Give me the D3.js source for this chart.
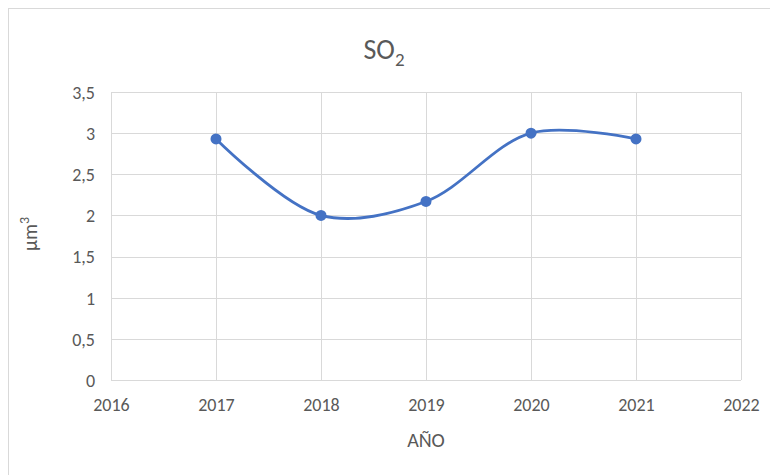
<!DOCTYPE html>
<html lang="es">
<head>
<meta charset="UTF-8">
<title>SO2</title>
<script src="https://d3js.org/d3.v7.min.js"></script>
<style>
    body { margin: 0; background: #ffffff; }
    text { font-family: Carlito, Lato, "Open Sans", sans-serif; }
    .tick text { fill: #595959; font-size: 18px; }
    .grid line { stroke: #d9d9d9; stroke-width: 1; }
</style>
</head>
<body>
<div id="chart"></div>
<script>
    // values
    const years = [2017, 2018, 2019, 2020, 2021];
    const so2 = [2.93, 2.0, 2.17, 3.0, 2.93];
    const xTicks = [2016, 2017, 2018, 2019, 2020, 2021, 2022];
    const yTicks = [0, 0.5, 1, 1.5, 2, 2.5, 3, 3.5];

    const W = 770, H = 475;
    const margin = { top: 92, right: 29, bottom: 95, left: 111 };
    const width = W - margin.left - margin.right;
    const height = H - margin.top - margin.bottom;

    const svg = d3.select("#chart").append("svg")
        .attr("width", W)
        .attr("height", H);

    // outer chart border
    svg.append("rect")
        .attr("x", 8.5).attr("y", 8.5)
        .attr("width", W).attr("height", H)
        .attr("fill", "none")
        .attr("stroke", "#d9d9d9");

    const g = svg.append("g")
        .attr("transform", `translate(${margin.left},${margin.top})`);

    const x = d3.scaleLinear().domain([2016, 2022]).range([0, width]);
    const y = d3.scaleLinear().domain([0, 3.5]).range([height, 0]);

    const fmt = d => String(d).replace(".", ",");

    // horizontal grid
    g.append("g").attr("class", "grid")
        .selectAll("line").data(yTicks).join("line")
        .attr("x1", 0).attr("x2", width)
        .attr("y1", d => Math.round(y(d)) + 0.5)
        .attr("y2", d => Math.round(y(d)) + 0.5);

    // vertical grid
    g.append("g").attr("class", "grid")
        .selectAll("line").data(xTicks).join("line")
        .attr("y1", 0).attr("y2", height)
        .attr("x1", d => Math.round(x(d)) + 0.5)
        .attr("x2", d => Math.round(x(d)) + 0.5);

    // axes (text only)
    const yAxis = g.append("g")
        .call(d3.axisLeft(y).tickValues(yTicks).tickFormat(fmt).tickSize(0).tickPadding(16));
    yAxis.select(".domain").remove();
    yAxis.attr("font-family", null).selectAll("text").attr("dy", "0.35em");

    const xAxis = g.append("g")
        .attr("transform", `translate(0,${height})`)
        .call(d3.axisBottom(x).tickValues(xTicks).tickFormat(d3.format("d")).tickSize(0).tickPadding(18));
    xAxis.select(".domain").remove();
    xAxis.attr("font-family", null);

    // the series
    const pts = years.map((yr, i) => [yr, so2[i]]);
    const line = d3.line()
        .x(d => x(d[0]))
        .y(d => y(d[1]))
        .curve(d3.curveCatmullRom.alpha(0.5));

    g.append("path")
        .datum(pts)
        .attr("fill", "none")
        .attr("stroke", "#4472c4")
        .attr("stroke-width", 2.75)
        .attr("d", line);

    g.selectAll("circle.pt").data(pts).join("circle")
        .attr("class", "pt")
        .attr("cx", d => x(d[0]))
        .attr("cy", d => y(d[1]))
        .attr("r", 5.5)
        .attr("fill", "#4472c4");

    // title with subscript
    const title = svg.append("text")
        .attr("x", 384).attr("y", 59)
        .attr("text-anchor", "middle")
        .attr("fill", "#595959")
        .style("font-size", "28px");
    title.append("tspan").text("SO");
    title.append("tspan").attr("dy", 7).style("font-size", "19px").text("2");

    // axis titles
    svg.append("text")
        .attr("x", margin.left + width / 2).attr("y", 447)
        .attr("text-anchor", "middle")
        .attr("fill", "#595959")
        .style("font-size", "20px")
        .text("AÑO");

    const yTitle = svg.append("text")
        .attr("transform", `translate(37,${margin.top + height / 2 - 2}) rotate(-90)`)
        .attr("text-anchor", "middle")
        .attr("fill", "#595959")
        .style("font-size", "20px");
    yTitle.append("tspan").text("µm");
    yTitle.append("tspan").attr("dy", -8).style("font-size", "14px").text("3");
</script>
</body>
</html>
